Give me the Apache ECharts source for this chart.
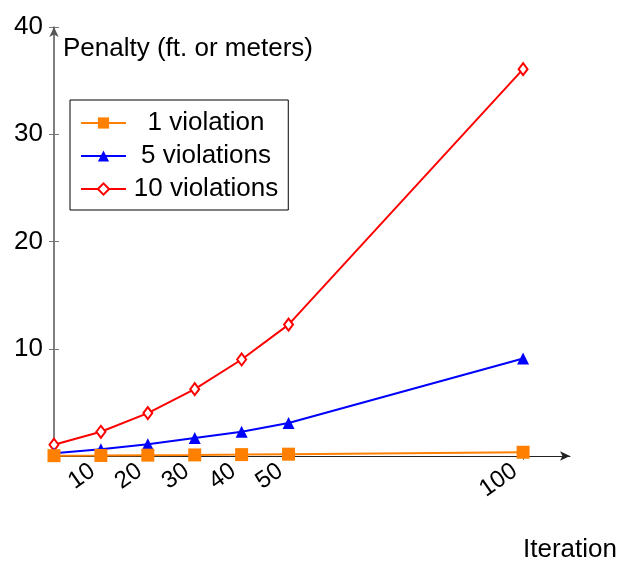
<!DOCTYPE html>
<html>
<head>
<meta charset="utf-8">
<script src="https://cdn.jsdelivr.net/npm/echarts@6/dist/echarts.min.js"></script>
<style>
  html, body { margin: 0; padding: 0; background: #fff; }
  #chart { width: 620px; height: 561px; }
</style>
</head>
<body>
<div id="chart"></div>
<script>
// iteration values (x)
const iterations = [0, 10, 20, 30, 40, 50, 100]
// penalty values, one list per series
const oneViolation = [0.03, 0.05, 0.08, 0.1, 0.13, 0.17, 0.35]
const fiveViolations = [0.25, 0.62, 1.09, 1.67, 2.26, 3.07, 9.09]
const tenViolations = [1.05, 2.26, 4.0, 6.23, 9.0, 12.25, 36.07]
// tick labels shown on the x axis
const xTicks = [10, 20, 30, 40, 50, 100]
const seriesNames = ['1 violation', '5 violations', '10 violations']

const font = 'Liberation Sans, Arial, sans-serif'

function pairs(ys) {
	return iterations.map((x, i) => [x, ys[i]])
}

const chart = echarts.init(document.getElementById('chart'))
const option = {
	animation: false,
	textStyle: { fontFamily: font },
	grid: { left: 54, right: 50, top: 27, bottom: 105, containLabel: false, outerBoundsMode: 'none' },
	legend: {
		orient: 'vertical',
		left: 70,
		top: 100,
		padding: [10, 10, 8, 10],
		itemGap: 7,
		itemWidth: 45,
		itemHeight: 14,
		borderColor: '#000',
		borderWidth: 1,
		formatter: '{t|{name}}',
		textStyle: {
			fontSize: 26,
			color: '#000',
			fontFamily: font,
			rich: { t: { width: 150, align: 'center', fontSize: 26, fontFamily: font } },
		},
		data: seriesNames,
	},
	xAxis: {
		type: 'value',
		min: 0,
		max: 110,
		name: 'Iteration',
		nameLocation: 'end',
		nameGap: 47,
		nameTextStyle: { fontSize: 26, color: '#000', align: 'right', verticalAlign: 'top', padding: [81, 0, 0, 0] },
		axisLine: { show: true, onZero: false, lineStyle: { color: '#222', width: 1 }, symbol: ['none', 'arrow'], symbolSize: [7, 10] },
		axisTick: { show: true, length: 4, customValues: xTicks, lineStyle: { color: '#777' } },
		axisLabel: { customValues: xTicks, rotate: 35, fontSize: 24, color: '#000', margin: 7, padding: [0, 10, 0, 0] },
		splitLine: { show: false },
	},
	yAxis: [
		{
			type: 'value',
			min: 0,
			max: 40,
			interval: 10,
			name: 'Penalty (ft. or meters)',
			nameLocation: 'end',
			nameGap: -9,
			nameTextStyle: { fontSize: 26, color: '#000', align: 'left', verticalAlign: 'top', padding: [0, 0, 0, 9] },
			axisLine: { show: true, lineStyle: { color: '#555', width: 1.5 }, symbol: ['none', 'arrow'], symbolSize: [7, 10] },
			axisTick: { show: true, length: 5, lineStyle: { color: '#777' } },
			axisLabel: {
				fontSize: 26,
				color: '#000',
				margin: 11,
				formatter: v => (v === 0 ? '' : v),
			},
			splitLine: { show: false },
		},
		{
			// inner half of the y ticks
			type: 'value',
			position: 'left',
			offset: 0,
			min: 0,
			max: 40,
			interval: 10,
			axisLine: { show: false },
			axisTick: { show: true, inside: true, length: 5, lineStyle: { color: '#777' } },
			axisLabel: { show: false },
			splitLine: { show: false },
		},
	],
	series: [
		{
			name: seriesNames[0],
			type: 'line',
			symbol: 'rect',
			symbolSize: 13,
			color: '#ff8000',
			lineStyle: { width: 2 },
			z: 3,
			data: pairs(oneViolation),
		},
		{
			name: seriesNames[1],
			type: 'line',
			symbol: 'triangle',
			symbolSize: 12,
			color: '#0000ff',
			lineStyle: { width: 2 },
			z: 2,
			data: pairs(fiveViolations),
		},
		{
			name: seriesNames[2],
			type: 'line',
			symbol: 'emptyDiamond',
			symbolSize: [9, 12],
			color: '#ff0000',
			itemStyle: { borderWidth: 2 },
			lineStyle: { width: 2 },
			z: 1,
			data: pairs(tenViolations),
		},
	],
}
chart.setOption(option)
</script>
</body>
</html>
